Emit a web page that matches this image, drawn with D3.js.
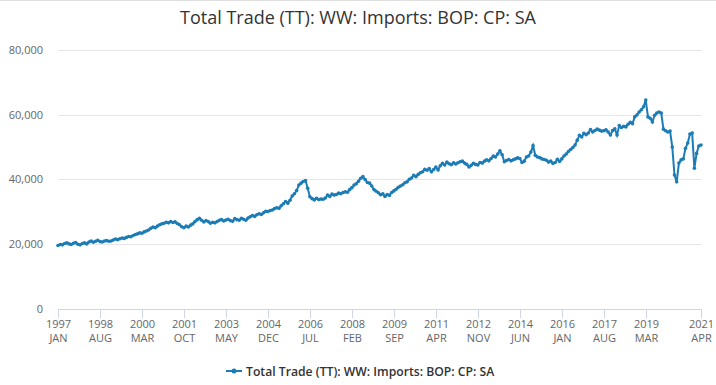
<!DOCTYPE html>
<html>
<head>
<meta charset="utf-8">
<script src="https://cdn.jsdelivr.net/npm/d3@7"></script>
<style>
 html,body{margin:0;padding:0;background:#fff;}
 svg{display:block;font-family:"Open Sans",sans-serif;}
</style>
</head>
<body>
<div id="chart"></div>
<script>
// monthly values, 1997 JAN .. 2021 APR
var values=[
 19500,19800,19700,20100,20300,20000,19800,20200,20400,19900,19700,20100,
 20300,20000,20600,20900,20500,20800,21100,20700,20600,20900,21000,20800,
 20900,21200,21500,21300,21600,21800,21700,22000,22300,22200,22600,22900,
 23100,23400,23300,23700,24000,24300,24800,25200,25000,25500,25900,26200,
 26400,26700,26500,26900,26600,26800,26300,25900,25300,25000,25500,25200,
 25800,26200,26900,27500,27900,27300,26800,27200,26900,26400,26700,26500,
 26900,27300,27500,27100,27400,27600,27200,27000,27800,27500,27300,27900,
 27600,27300,28000,28400,28800,28500,29000,29300,29100,29600,30100,30000,
 30300,30500,30900,31200,31000,31800,32400,33100,32600,33500,34800,35500,
 36500,38200,38800,39300,39600,37200,34600,34000,33600,34100,33700,33900,
 33800,34200,35100,34700,35400,35100,35300,35700,35500,35900,36100,36000,
 36800,37400,38200,38600,39400,40300,40800,39900,39000,38800,37900,36800,
 36300,35800,35200,35500,34700,35300,35000,35900,36400,36900,37500,37900,
 38300,38900,39200,40000,40400,41200,40800,41500,42000,42300,43100,42800,
 43300,42300,43000,43800,42900,44200,44900,44400,45300,44800,44500,45100,
 44700,45100,45400,45600,45000,44600,43800,44300,44900,44600,44400,45200,
 45000,45600,46000,45700,46400,47200,46900,47800,48800,47600,45400,45800,
 46100,45700,46000,46300,46600,46400,45200,45600,46900,47200,48400,50400,
 47400,46900,46700,46300,46100,45900,45300,45600,44900,45200,46200,45500,
 46300,47200,47800,48600,49200,49800,50600,52100,53600,53100,54200,53800,
 54300,55400,54600,55100,55500,55200,54900,55000,55300,54600,53700,55100,
 55600,53700,56600,56000,56400,56200,57000,57600,57200,59300,59900,60800,
 61500,62400,64500,59300,58900,57700,59800,60500,60800,60500,55500,55000,
 54600,54900,50000,41300,39200,45000,46000,46300,49600,51200,54000,54300,
 43400,48000,50300,50600
];
var tickIndex=[0,19,38,57,76,95,114,133,152,171,190,209,228,247,266,291];
var tickYears=["1997","1998","2000","2001","2003","2004","2006","2008","2009","2011","2012","2014","2016","2017","2019","2021"];
var tickMonths=["JAN","AUG","MAR","OCT","MAY","DEC","JUL","FEB","SEP","APR","NOV","JUN","JAN","AUG","MAR","APR"];
var yTicks=[0,20000,40000,60000,80000];
var title="Total Trade (TT): WW: Imports: BOP: CP: SA";
var seriesName="Total Trade (TT): WW: Imports: BOP: CP: SA";

var W=716,H=385,color="#1c7cb6";
var svg=d3.select("#chart").append("svg").attr("width",W).attr("height",H);

svg.append("line").attr("x1",0).attr("x2",W).attr("y1",0.5).attr("y2",0.5).attr("stroke","#e0e0e0");

var x=d3.scaleLinear().domain([0,values.length-1]).range([58,701]);
var y=d3.scaleLinear().domain([0,80000]).range([308.5,50]);

svg.append("text").attr("x",358).attr("y",24).attr("text-anchor","middle")
 .attr("font-size",18).attr("fill","#333").text(title);

// grid
svg.append("g").selectAll("line").data(yTicks.filter(function(d){return d>0;})).join("line")
 .attr("x1",58).attr("x2",702).attr("y1",function(d){return Math.round(y(d))+0.5;}).attr("y2",function(d){return Math.round(y(d))+0.5;})
 .attr("stroke","#e6e6e6");

svg.append("g").selectAll("text").data(yTicks).join("text")
 .attr("x",43).attr("y",function(d){return y(d)+4;}).attr("text-anchor","end")
 .attr("font-size",11).attr("fill","#666").text(d3.format(","));

// x axis
var xa=svg.append("g");
xa.append("line").attr("x1",58).attr("x2",702).attr("y1",309.5).attr("y2",309.5).attr("stroke","#ccd6eb");
var tk=xa.selectAll("g").data(tickIndex).join("g")
 .attr("transform",function(d){return "translate("+(Math.round(x(d))+0.5)+",0)";});
tk.append("line").attr("y1",309.5).attr("y2",318).attr("stroke","#ccd6eb");
tk.append("text").attr("y",328).attr("text-anchor","middle").attr("font-size",11).attr("fill","#666")
 .text(function(d,i){return tickYears[i];});
tk.append("text").attr("y",342).attr("text-anchor","middle").attr("font-size",11).attr("fill","#666")
 .text(function(d,i){return tickMonths[i];});

// series
var line=d3.line().x(function(d,i){return x(i);}).y(function(d){return y(d);});
svg.append("path").datum(values).attr("d",line).attr("fill","none").attr("stroke",color).attr("stroke-width",2);
svg.append("g").selectAll("circle").data(values).join("circle")
 .attr("cx",function(d,i){return x(i);}).attr("cy",function(d){return y(d);}).attr("r",1.8).attr("fill",color);

// legend
var lg=svg.append("g").attr("transform","translate(0,371)");
lg.append("line").attr("x1",226).attr("x2",242).attr("stroke",color).attr("stroke-width",2);
lg.append("circle").attr("cx",234).attr("r",2.5).attr("fill",color);
lg.append("text").attr("x",246).attr("y",4.5).attr("font-size",12.2).attr("font-weight",600).attr("fill","#333").text(seriesName);
</script>
</body>
</html>
